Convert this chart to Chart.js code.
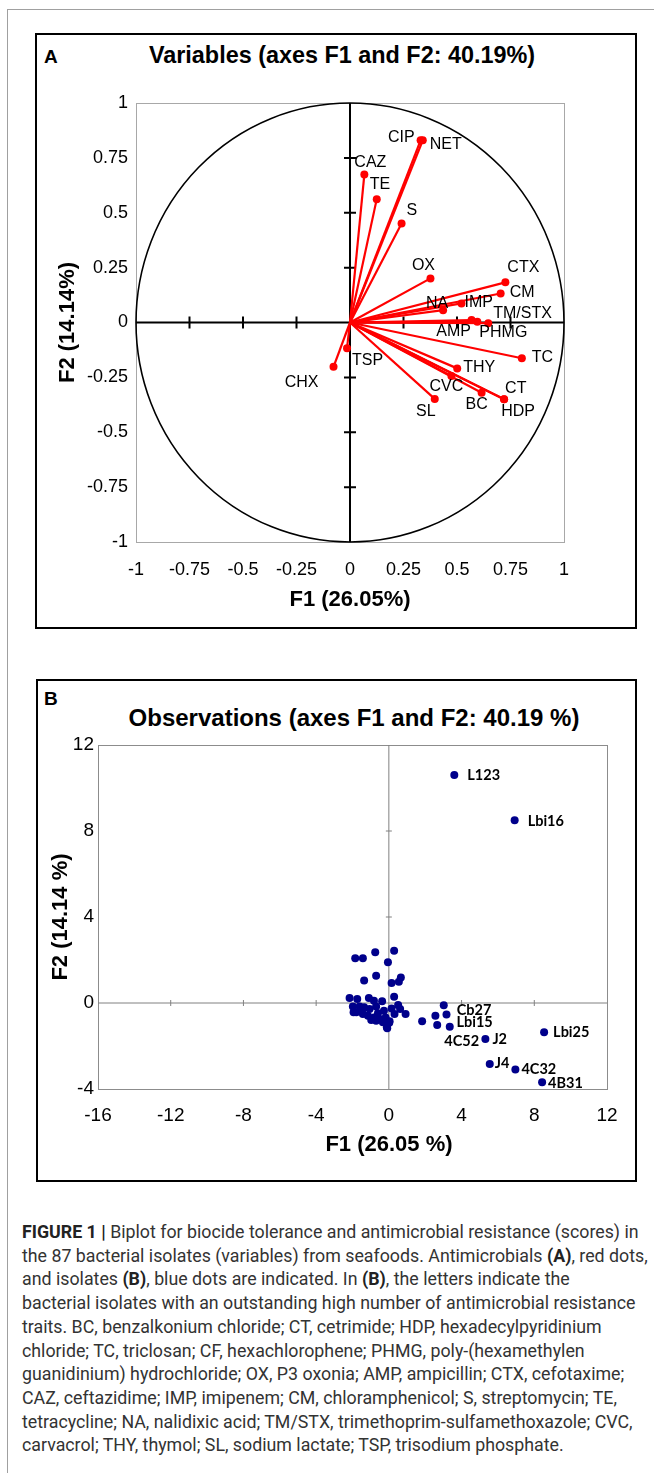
<!DOCTYPE html>
<html>
<head>
<meta charset="utf-8">
<script src="https://cdn.jsdelivr.net/npm/chart.js@4.4.1/dist/chart.umd.min.js"></script>
<style>
  body { margin: 0; width: 654px; height: 1473px; position: relative; overflow: hidden; background: #fff;
         font-family: "Liberation Sans", Arial, sans-serif; }
  .frame { position: absolute; left: 7px; top: 9px; width: 720px; height: 1520px; border: 1.5px solid #a0a0a0; }
  .box { position: absolute; border: 2px solid #000; box-sizing: border-box; }
  .txt { position: absolute; white-space: nowrap; font-weight: bold; color: #000; line-height: 1; }
  canvas { position: absolute; }
  .caption { position: absolute; left: 22px; top: 1220px; font-family: Roboto, "Noto Sans", sans-serif;
             font-size: 17.8px; line-height: 23.7px; color: #333; white-space: nowrap; }
  .caption b { color: #222; }
</style>
</head>
<body>
<div class="frame"></div>

<div class="box" style="left:35px;top:33px;width:602px;height:596px;"></div>
<div class="txt" style="left:44px;top:47px;font-size:19px;">A</div>
<div class="txt" style="left:0;width:684px;text-align:center;top:44px;font-size:23.4px;">Variables (axes F1 and F2: 40.19%)</div>
<canvas id="chartA" width="600" height="594" style="left:36px;top:34px;"></canvas>

<div class="box" style="left:36px;top:679px;width:601px;height:503px;"></div>
<div class="txt" style="left:44px;top:689px;font-size:19px;">B</div>
<div class="txt" style="left:0;width:708px;text-align:center;top:706px;font-size:24px;">Observations (axes F1 and F2: 40.19 %)</div>
<canvas id="chartB" width="599" height="501" style="left:37px;top:680px;"></canvas>
<div class="txt" style="left:0;width:778px;text-align:center;top:1133px;font-size:22px;">F1 (26.05 %)</div>

<div class="caption">
<b>FIGURE 1 |</b> Biplot for biocide tolerance and antimicrobial resistance (scores) in<br>
the 87 bacterial isolates (variables) from seafoods. Antimicrobials <b>(A)</b>, red dots,<br>
and isolates <b>(B)</b>, blue dots are indicated. In <b>(B)</b>, the letters indicate the<br>
bacterial isolates with an outstanding high number of antimicrobial resistance<br>
traits. BC, benzalkonium chloride; CT, cetrimide; HDP, hexadecylpyridinium<br>
chloride; TC, triclosan; CF, hexachlorophene; PHMG, poly-(hexamethylen<br>
guanidinium) hydrochloride; OX, P3 oxonia; AMP, ampicillin; CTX, cefotaxime;<br>
CAZ, ceftazidime; IMP, imipenem; CM, chloramphenicol; S, streptomycin; TE,<br>
tetracycline; NA, nalidixic acid; TM/STX, trimethoprim-sulfamethoxazole; CVC,<br>
carvacrol; THY, thymol; SL, sodium lactate; TSP, trisodium phosphate.
</div>

<script>
// Panel A: variable loadings on F1 / F2
const varNames = ['CIP', 'NET', 'CAZ', 'TE', 'S', 'OX', 'CTX', 'CM', 'IMP', 'NA', 'TM/STX', 'AMP', 'PHMG',
                  'TC', 'THY', 'CVC', 'BC', 'CT', 'HDP', 'SL', 'TSP', 'CHX'];
const varF1 = [0.33, 0.34, 0.067, 0.125, 0.241, 0.376, 0.726, 0.704, 0.521, 0.435, 0.646, 0.568, 0.595,
               0.803, 0.501, 0.474, 0.615, 0.72, 0.72, 0.396, -0.014, -0.077];
const varF2 = [0.83, 0.83, 0.674, 0.562, 0.451, 0.201, 0.183, 0.132, 0.087, 0.056, -0.003, 0.011, 0.003,
               -0.163, -0.209, -0.244, -0.32, -0.35, -0.35, -0.348, -0.117, -0.202];

// Panel B: isolate scores, labelled ones first
const isoNames = ['L123', 'Lbi16', 'Cb27', 'Lbi15', '4C52', 'J2', 'Lbi25', 'J4', '4C32', '4B31'];
const isoF1 = [3.6, 6.92, 3.02, 3.17, 3.35, 5.31, 8.54, 5.55, 6.96, 8.43];
const isoF2 = [10.6, 8.5, -0.1, -0.53, -1.1, -1.67, -1.36, -2.84, -3.09, -3.69];

// the unlabelled isolates around the origin
const otherF1 = [-1.85, -1.43, -0.75, 0.29, -0.05, -1.36, -0.70, 0.15, 0.55, 0.66, 0.29, -2.16, -1.74, -1.10,
                 -0.82, -0.37, -1.98, -1.61, -1.36, -1.94, -1.52, -1.06, -0.70, 0.51, 0.62, 0.15, -0.27, 0.92,
                 0.31, -1.15, -0.82, -0.51, -0.18, 0.04, -0.11, -0.97, -1.43, -1.79, -0.60, -0.33, -0.70,
                 2.56, 2.66, 1.83, -0.09, 0.02];
const otherF2 = [2.08, 2.08, 2.36, 2.43, 1.89, 1.05, 1.27, 0.93, 0.99, 1.19, 0.29, 0.23, 0.19, 0.23,
                 0.11, 0.08, -0.16, -0.16, -0.20, -0.43, -0.36, -0.28, -0.16, -0.09, -0.28, -0.25, -0.36, -0.51,
                 -0.51, -0.59, -0.67, -0.74, -0.67, -0.85, -1.13, -0.79, -0.51, -0.43, -0.48, -0.90, -0.82,
                 -0.59, -1.02, -0.85, -1.18, -0.92];

// label placement next to each dot: [dx, dy, align]
const labelPosA = {
  'CIP': [-6, -3, 'right'], 'NET': [7, 4, 'left'], 'CAZ': [-10, -12, 'left'], 'TE': [-7, -15, 'left'],
  'S': [5, -13, 'left'], 'OX': [-7, -13, 'center'], 'CTX': [2, -15, 'left'], 'CM': [9, -1, 'left'],
  'IMP': [3, -1, 'left'], 'NA': [-6, -7, 'center'], 'TM/STX': [5, -10, 'left'], 'AMP': [-18, 12, 'center'],
  'PHMG': [26, 11, 'center'], 'TC': [10, -1, 'left'], 'THY': [6, -1, 'left'], 'CVC': [-5, 11, 'center'],
  'BC': [-5, 12, 'center'], 'CT': [1, -11, 'left'], 'HDP': [14, 12, 'center'], 'SL': [-9, 13, 'center'],
  'TSP': [5, 12, 'left'], 'CHX': [-32, 16, 'center']
};
const labelPosB = {
  'L123': [13, 0, 'left'], 'Lbi16': [13, 1, 'left'], 'Cb27': [13, 5, 'left'], 'Lbi15': [10, 8, 'left'],
  '4C52': [12, 15, 'center'], 'J2': [7, 0, 'left'], 'Lbi25': [9, 0, 'left'], 'J4': [5, -1, 'left'],
  '4C32': [6, 0, 'left'], '4B31': [6, 1, 'left']
};

const fmt = v => String(Math.round(v * 100) / 100);

// gray frame round the plot area
const plotFrame = {
  id: 'plotFrame',
  beforeDatasetsDraw(chart, args, o) {
    const { ctx, chartArea: a } = chart;
    ctx.save();
    ctx.strokeStyle = o.color;
    ctx.lineWidth = 1;
    ctx.strokeRect(a.left + 0.5, a.top + 0.5, a.right - a.left, a.bottom - a.top);
    ctx.restore();
  }
};

// axes through the origin with small cross ticks
const zeroAxes = {
  id: 'zeroAxes',
  beforeDatasetsDraw(chart, args, o) {
    const { ctx, chartArea: a, scales: { x, y } } = chart;
    const x0 = x.getPixelForValue(0), y0 = y.getPixelForValue(0);
    ctx.save();
    ctx.strokeStyle = o.color;
    ctx.lineWidth = o.width;
    ctx.beginPath();
    ctx.moveTo(a.left, y0); ctx.lineTo(a.right, y0);
    ctx.moveTo(x0, a.top); ctx.lineTo(x0, a.bottom);
    x.ticks.forEach(t => {
      if (t.value === 0 || t.value === x.min || t.value === x.max) return;
      const px = x.getPixelForValue(t.value);
      ctx.moveTo(px, y0 - o.tick); ctx.lineTo(px, y0 + o.tick);
    });
    y.ticks.forEach(t => {
      if (t.value === 0 || t.value === y.min || t.value === y.max) return;
      const py = y.getPixelForValue(t.value);
      ctx.moveTo(x0 - o.tick, py); ctx.lineTo(x0 + o.tick, py);
    });
    ctx.stroke();
    ctx.restore();
  }
};

// correlation circle (radius 1 on both scales)
const corrCircle = {
  id: 'corrCircle',
  beforeDatasetsDraw(chart, args, o) {
    if (!o.show) return;
    const { ctx, scales: { x, y } } = chart;
    const cx = x.getPixelForValue(0), cy = y.getPixelForValue(0);
    const rx = x.getPixelForValue(1) - cx, ry = cy - y.getPixelForValue(1);
    ctx.save();
    ctx.strokeStyle = '#000';
    ctx.lineWidth = 1.6;
    ctx.beginPath();
    ctx.ellipse(cx, cy, rx, ry, 0, 0, Math.PI * 2);
    ctx.stroke();
    ctx.restore();
  }
};

const pointLabels = {
  id: 'pointLabels',
  afterDatasetsDraw(chart, args, o) {
    const { ctx, scales: { x, y } } = chart;
    ctx.save();
    ctx.font = o.font;
    ctx.fillStyle = o.color;
    ctx.textBaseline = 'middle';
    o.names.forEach((name, i) => {
      const [dx, dy, align] = o.pos[name];
      ctx.textAlign = align;
      ctx.fillText(name, x.getPixelForValue(o.xs[i]) + dx, y.getPixelForValue(o.ys[i]) + dy);
    });
    ctx.restore();
  }
};

function axis(min, max, step, size, pad, title, titlePad, fixed, isX) {
  return {
    type: 'linear', min: min, max: max,
    grid: { display: false, drawTicks: false },
    border: { display: false },
    ticks: { stepSize: step, padding: pad, color: '#000', font: { family: 'Liberation Sans', size: size },
             callback: fmt },
    title: title ? { display: true, text: title, color: '#000', padding: titlePad,
                     font: { family: 'Liberation Sans', size: 22, weight: 'bold' } } : { display: false },
    afterFit: s => { if (isX) s.height = fixed; else s.width = fixed; }
  };
}

// --- chart A ---
const vecSets = varNames.map((n, i) => ({
  label: n,
  data: [{ x: 0, y: 0 }, { x: varF1[i], y: varF2[i] }],
  showLine: true,
  borderColor: '#ff0000',
  borderWidth: 2.2,
  pointRadius: [0, 4],
  pointBackgroundColor: '#ff0000',
  pointBorderWidth: 0
}));

new Chart(document.getElementById('chartA'), {
  type: 'scatter',
  data: { datasets: vecSets },
  options: {
    responsive: false, animation: false,
    layout: { padding: { left: 0, right: 72, top: 69, bottom: 0 } },
    scales: {
      x: axis(-1, 1, 0.25, 18, 17, 'F1 (26.05%)', { top: 0, bottom: 15 }, 86, true),
      y: axis(-1, 1, 0.25, 18, 8, 'F2 (14.14%)', { top: 19, bottom: 0 }, 100, false)
    },
    plugins: {
      legend: { display: false }, tooltip: { enabled: false },
      plotFrame: { color: '#a8a8a8' },
      zeroAxes: { color: '#000', width: 2, tick: 6 },
      corrCircle: { show: true },
      pointLabels: { names: varNames, xs: varF1, ys: varF2, pos: labelPosA,
                     font: '16px "Liberation Sans", Arial, sans-serif', color: '#000' }
    }
  },
  plugins: [plotFrame, corrCircle, zeroAxes, pointLabels]
});

// --- chart B ---
new Chart(document.getElementById('chartB'), {
  type: 'scatter',
  data: {
    datasets: [
      { label: 'isolates', data: otherF1.map((v, i) => ({ x: v, y: otherF2[i] })),
        pointRadius: 4, pointBackgroundColor: '#00008b', pointBorderWidth: 0 },
      { label: 'labelled', data: isoF1.map((v, i) => ({ x: v, y: isoF2[i] })),
        pointRadius: 4, pointBackgroundColor: '#00008b', pointBorderWidth: 0 }
    ]
  },
  options: {
    responsive: false, animation: false,
    layout: { padding: { left: 0, right: 29, top: 65, bottom: 0 } },
    scales: {
      x: axis(-16, 12, 4, 19, 15, null, null, 92, true),
      y: axis(-4, 12, 4, 19, 4, 'F2 (14.14 %)', { top: 11, bottom: 0 }, 61, false)
    },
    plugins: {
      legend: { display: false }, tooltip: { enabled: false },
      plotFrame: { color: '#8c8c8c' },
      zeroAxes: { color: '#808080', width: 1, tick: 3 },
      corrCircle: { show: false },
      pointLabels: { names: isoNames, xs: isoF1, ys: isoF2, pos: labelPosB,
                     font: 'bold 14.5px Lato, "Open Sans", sans-serif', color: '#000' }
    }
  },
  plugins: [plotFrame, zeroAxes, pointLabels]
});
</script>
</body>
</html>
